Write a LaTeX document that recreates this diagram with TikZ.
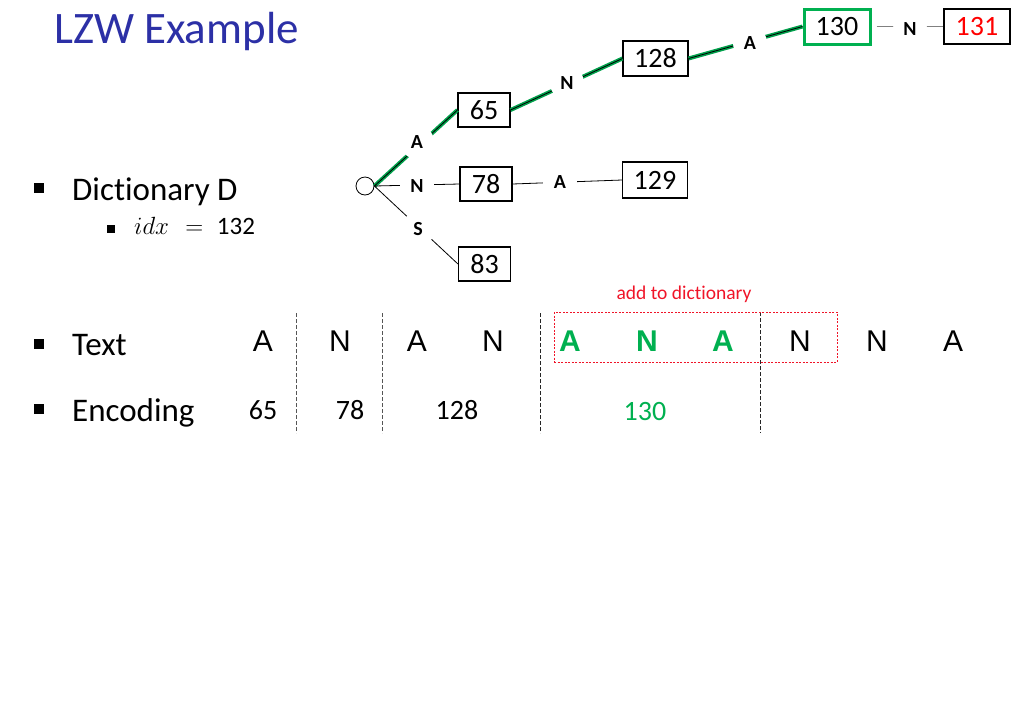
\documentclass[tikz,border=0pt]{standalone}
\usepackage{fontspec}
\setmainfont{Carlito}[Ligatures=NoCommon]
\newfontfamily\arialfont{Liberation Sans}
\definecolor{titleblue}{RGB}{44,48,166}
\definecolor{hlgreen}{RGB}{0,160,75}
\definecolor{boxgreen}{RGB}{0,176,80}
\definecolor{dashgray}{RGB}{85,85,85}
\definecolor{addred}{RGB}{240,20,40}
\begin{document}
\begin{tikzpicture}[x=1pt,y=-1pt,
  box/.style={draw, line width=1.1pt, minimum width=52pt, minimum height=34pt, inner sep=0pt, font=\fontsize{28}{30}\selectfont},
  widebox/.style={box, minimum width=65pt, minimum height=35pt},
  lbl/.style={circle, fill=white, minimum size=34pt, inner sep=0pt, font=\bfseries\fontsize{20}{22}\selectfont},
  edge/.style={line width=0.8pt},
  hl/.style={line width=0.8pt, preaction={draw=hlgreen, line width=4pt}},
  bulletA/.style={fill=black, minimum size=10pt, inner sep=0pt},
  bulletB/.style={fill=black, minimum size=8pt, inner sep=0pt},
  levelone/.style={anchor=base west, inner sep=0pt, font=\fontsize{33}{36}\selectfont},
  letter/.style={anchor=base, inner sep=0pt, font=\arialfont\fontsize{30}{32}\selectfont},
  gletter/.style={anchor=base, inner sep=0pt, text=boxgreen, font=\arialfont\bfseries\fontsize{30}{32}\selectfont},
  code/.style={anchor=base, inner sep=0pt, font=\fontsize{28}{30}\selectfont},
  vdash/.style={line width=0.9pt, dash pattern=on 4pt off 2pt}
]
\useasboundingbox (0,0) rectangle (1015,705);

% title
\node[anchor=base west, inner sep=0pt, text=titleblue, font=\fontsize{45}{50}\selectfont] (title) at (54,43) {LZW Example};

% bullets
\node[bulletA] (bd) at (39,188) {};
\node[levelone] (dict) at (72,200) {Dictionary D};
\node[bulletB] (bi) at (111,229) {};
\node[anchor=base west, inner sep=0pt, font=\fontsize{25}{28}\selectfont] (idx) at (134,234) {\(idx\)\hspace{0.65em}\(=\)\hspace{0.55em}132};
\node[bulletA] (bt) at (39,344) {};
\node[levelone] (textw) at (72,355) {Text};
\node[bulletA] (be) at (39,409) {};
\node[levelone] (encw) at (72,421) {Encoding};

% tree
\node[circle, draw, line width=0.8pt, minimum size=18pt, inner sep=0pt] (root) at (365,186) {};
\node[box] (n65) at (484,110) {65};
\node[box] (n78) at (486,184) {78};
\node[box] (n83) at (484.5,264) {83};
\node[widebox] (n128) at (655.5,58.5) {128};
\node[widebox, minimum height=36pt] (n129) at (655,180) {129};
\node[widebox, draw=boxgreen, line width=3pt, minimum width=66pt, minimum height=35pt] (n130) at (837,26.5) {130};
\node[widebox, text=red, minimum width=66pt] (n131) at (977,26.5) {131};

\draw[hl] (root.east) -- (n65.west);
\draw[hl] (n65.east) -- (n128.west);
\draw[hl] (n128.east) -- (n130.west);
\draw[edge] (root.east) -- (n78.west);
\draw[edge] (root.east) -- (n83.west);
\draw[edge] (n78.east) -- (n129.west);
\draw[line width=1.4pt, gray, shorten <=5pt] (n130.east) -- (n131.west);

\node[lbl] (la) at (417,142) {A};
\node[lbl] (ln) at (417,186) {N};
\node[lbl] (ls) at (418,229) {S};
\node[lbl] (ln2) at (567,83) {N};
\node[lbl] (la2) at (750,43) {A};
\node[lbl] (ln3) at (910,29) {N};
\node[lbl] (la3) at (560,182) {A};

% dashed separators
\coordinate (d1t) at (296,313); \coordinate (d1b) at (296,433);
\coordinate (d2t) at (382,313); \coordinate (d2b) at (382,433);
\coordinate (d3t) at (540,313); \coordinate (d3b) at (540,433);
\coordinate (d4t) at (760,312); \coordinate (d4b) at (760,433);
\draw[vdash, dashgray] (d1t) -- (d1b);
\draw[vdash, dashgray] (d2t) -- (d2b);
\draw[vdash, black!85] (d3t) -- (d3b);
\draw[vdash, black!85] (d4t) -- (d4b);

% add-to-dictionary box
\node[draw=addred, line width=0.7pt, dash pattern=on 2pt off 1.5pt, minimum width=283pt, minimum height=50pt, inner sep=0pt] (addbox) at (695.5,337) {};
\node[anchor=base, inner sep=0pt, text=addred, font=\fontsize{19.5}{21}\selectfont] (addlbl) at (684,299) {add to dictionary};

% text row
\node[letter] (t1) at (263,351) {A};
\node[letter] (t2) at (340,351) {N};
\node[letter] (t3) at (417,351) {A};
\node[letter] (t4) at (493,351) {N};
\node[gletter] (t5) at (570,351) {A};
\node[gletter] (t6) at (647,351) {N};
\node[gletter] (t7) at (723,351) {A};
\node[letter] (t8) at (800,351) {N};
\node[letter] (t9) at (877,351) {N};
\node[letter] (t10) at (953,351) {A};

% encoding row
\node[code] (e1) at (263,419) {65};
\node[code] (e2) at (350,419) {78};
\node[code] (e3) at (457,419) {128};
\node[code, text=boxgreen] (e4) at (645,420) {130};
\end{tikzpicture}
\end{document}
